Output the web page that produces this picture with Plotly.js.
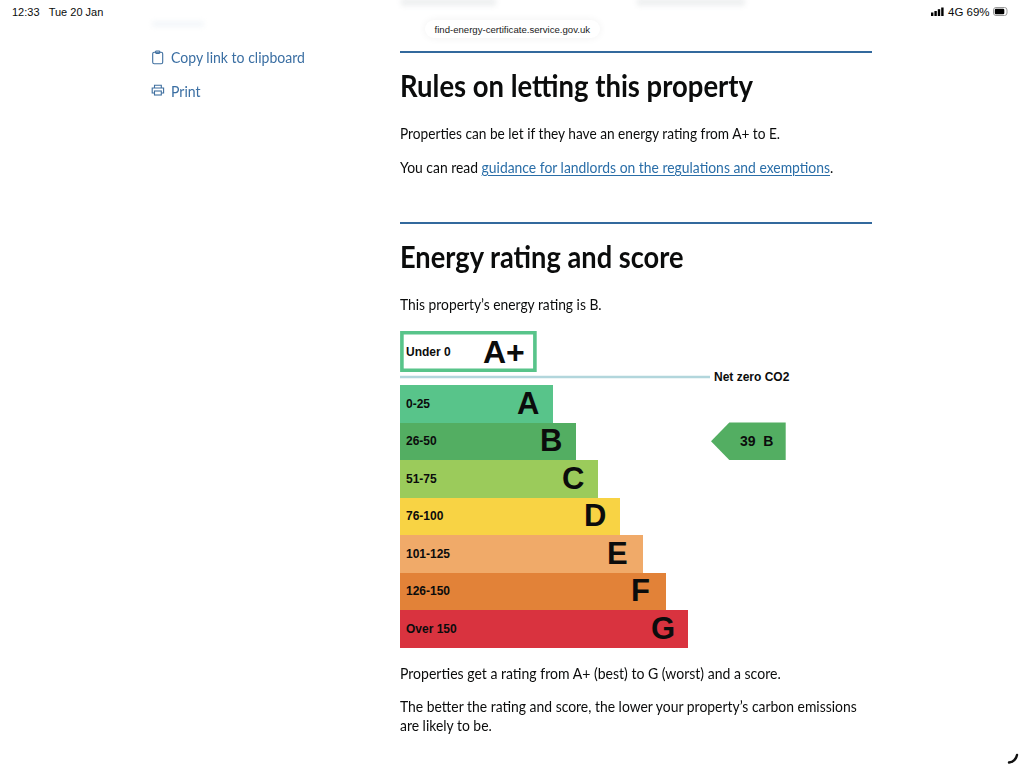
<!DOCTYPE html>
<html><head><meta charset="utf-8">
<script src="https://cdn.plot.ly/plotly-3.0.1.min.js"></script>
<style>
html,body{margin:0;padding:0;background:#fff;width:1024px;height:767px;overflow:hidden}
body{position:relative;font-family:Lato,sans-serif;color:#0b0c0c}
.t{position:absolute;white-space:nowrap;line-height:1;transform-origin:0 50%}
.h{font-weight:700;font-size:30.5px;transform:scaleX(.9)}
.p{font-size:15.8px;transform:scaleX(.87)}
.a{color:#3b6fa3;font-size:15.6px;transform:scaleX(.9)}
.l{color:#2a6ea8;text-decoration:underline;text-underline-offset:2px;text-decoration-thickness:1px}
.rule{position:absolute;left:400px;width:472px;height:2.5px;background:#33699d}
.s{font-family:"Liberation Sans",sans-serif;font-size:11px}
.blur{position:absolute;background:#c9ced2;filter:blur(2.5px);opacity:.3}
#chart{position:absolute;left:400px;top:325px;width:400px;height:330px}
svg.i{position:absolute;fill:none;stroke:#3f6f9f;stroke-width:1.1}
</style></head><body>
<div class="t s" style="left:12px;top:6.5px">12:33&nbsp;&nbsp;&nbsp;Tue 20 Jan</div>
<div class="t s" style="left:948px;top:6.5px;font-size:11.5px">4G 69%</div>
<svg style="position:absolute;left:930px;top:6px" width="90" height="12">
<rect x="1" y="6.5" width="2.4" height="3.5" fill="#000"/><rect x="4.4" y="5" width="2.4" height="5" fill="#000"/><rect x="7.8" y="3.2" width="2.4" height="6.8" fill="#000"/><rect x="11.2" y="1.5" width="2.4" height="8.5" fill="#000"/>
<rect x="63.5" y="1.5" width="13.5" height="8" rx="2.5" fill="none" stroke="#999"/><rect x="64.8" y="2.8" width="9.5" height="5.4" rx="1.2" fill="#000"/></svg>
<div class="blur" style="left:401px;top:-2px;width:95px;height:8px"></div>
<div class="blur" style="left:637px;top:-2px;width:108px;height:8px"></div>
<div class="blur" style="left:152px;top:21px;width:52px;height:6px;background:#d9e4ee"></div>
<div style="position:absolute;left:425px;top:20px;width:175px;height:18px;border-radius:9px;background:#fff;box-shadow:0 0 8px rgba(0,0,0,.06)"></div>
<div class="t" style="left:434.5px;top:24.5px;font-family:'Liberation Sans';font-size:9.6px;color:#222">find-energy-certificate.service.gov.uk</div>
<svg class="i" style="left:151px;top:50px" width="14" height="15"><rect x="1.7" y="2.2" width="10" height="11.6" rx="1.5"/><rect x="4.6" y="1" width="4.2" height="2.4" rx=".8"/></svg>
<div class="t a" style="left:170.5px;top:50px">Copy link to clipboard</div>
<svg class="i" style="left:151px;top:84px" width="14" height="13"><path d="M3.5 4V1.2h6.8V4M3.5 9H1.2V4h11.4v5h-2.3"/><rect x="3.5" y="7" width="6.8" height="4"/></svg>
<div class="t a" style="left:170.5px;top:83.5px">Print</div>
<div class="rule" style="top:50.5px"></div>
<div class="t h" style="left:399.5px;top:70px">Rules on letting this property</div>
<div class="t p" style="left:400px;top:124.5px;transform:scaleX(.866)">Properties can be let if they have an energy rating from A+ to E.</div>
<div class="t p" style="left:400px;top:158.5px;transform:scaleX(.88)">You can read <span class="l">guidance for landlords on the regulations and exemptions</span>.</div>
<div class="rule" style="top:221.5px"></div>
<div class="t h" style="left:399.5px;top:241px;transform:scaleX(.893)">Energy rating and score</div>
<div class="t p" style="left:400px;top:295.5px;transform:scaleX(.875)">This property’s energy rating is B.</div>
<div id="chart"></div>
<div class="t p" style="left:400px;top:664.5px;transform:scaleX(.889)">Properties get a rating from A+ (best) to G (worst) and a score.</div>
<div class="t p" style="left:400px;top:698px;transform:scaleX(.881)">The better the rating and score, the lower your property’s carbon emissions</div>
<div class="t p" style="left:400px;top:717px;transform:scaleX(.881)">are likely to be.</div>
<svg style="position:absolute;left:1005px;top:750px" width="19" height="17"><path d="M4 12.5C8.5 12 11 9.5 12 5" fill="none" stroke="#111" stroke-width="2.4" stroke-linecap="round"/></svg>
<script>
const bandLetters = ["A","B","C","D","E","F","G"];
const bandRanges = ["0-25","26-50","51-75","76-100","101-125","126-150","Over 150"];
const bandLengths = [153.3,175.7,198,220.3,242.7,265.5,288];
const bandColors = ["#58c48a","#53ae62","#9bcb5b","#f8d344","#f0aa69","#e28238","#d9333f"];
const bandRows = [1,2,3,4,5,6,7];
const topLetter = "A+", topRange = "Under 0", topRow = -0.393, topLength = 133;
const netZeroLabel = "Net zero CO2", netZeroRow = 0.287, netZeroLength = 310;
const score = 39, scoreLetter = "B", scoreRow = 2;
const arrowX = [311,329.3,385.7,385.7,329.3,311];
const arrowY = [2,1.5,1.5,2.5,2.5,2];

const boldFont = (s,c) => ({family:"Liberation Sans, Arial, sans-serif",size:s,color:c||"#0b0c0c",weight:700});
const note = (x,y,text,size,anchor) => ({x,y,text,xref:"x",yref:"y",showarrow:false,xanchor:anchor,yanchor:"middle",font:boldFont(size),borderpad:0});

const traces = [
 {type:"bar",orientation:"h",x:[topLength],y:[topRow],base:[1.9],width:[1],
  marker:{color:"#ffffff",line:{color:"#58c48a",width:3.6}},hoverinfo:"skip"},
 {type:"bar",orientation:"h",x:bandLengths,y:bandRows,width:1,
  marker:{color:bandColors,line:{width:0}},hoverinfo:"skip"},
 {type:"scatter",mode:"lines",x:[0,netZeroLength],y:[netZeroRow,netZeroRow],
  line:{color:"#b2d6dc",width:2.7},hoverinfo:"skip"},
 {type:"scatter",mode:"lines",x:arrowX,y:arrowY,fill:"toself",fillcolor:"#53ae62",
  line:{width:0},hoverinfo:"skip"}
];
const annotations = [
 note(5,topRow,topRange,12,"left"),
 note(126,topRow,topLetter,32,"right"),
 note(313,netZeroRow+0.01,netZeroLabel,12,"left"),
 note(339,scoreRow,score+"&nbsp;&nbsp;"+scoreLetter,14,"left")
];
bandRows.forEach((r,i)=>{
 annotations.push(note(5,r,bandRanges[i],12,"left"));
 annotations.push(note(bandLengths[i]-25,r-0.01,bandLetters[i],31,"center"));
});
Plotly.newPlot("chart",traces,{
 width:400,height:330,margin:{l:0,r:0,t:0,b:0},
 paper_bgcolor:"rgba(0,0,0,0)",plot_bgcolor:"rgba(0,0,0,0)",
 showlegend:false,barmode:"overlay",bargap:0,
 xaxis:{range:[0,400],visible:false,fixedrange:true},
 yaxis:{range:[7.7,-1.1],visible:false,fixedrange:true},
 annotations
},{displayModeBar:false,staticPlot:true});
</script>
</body></html>
